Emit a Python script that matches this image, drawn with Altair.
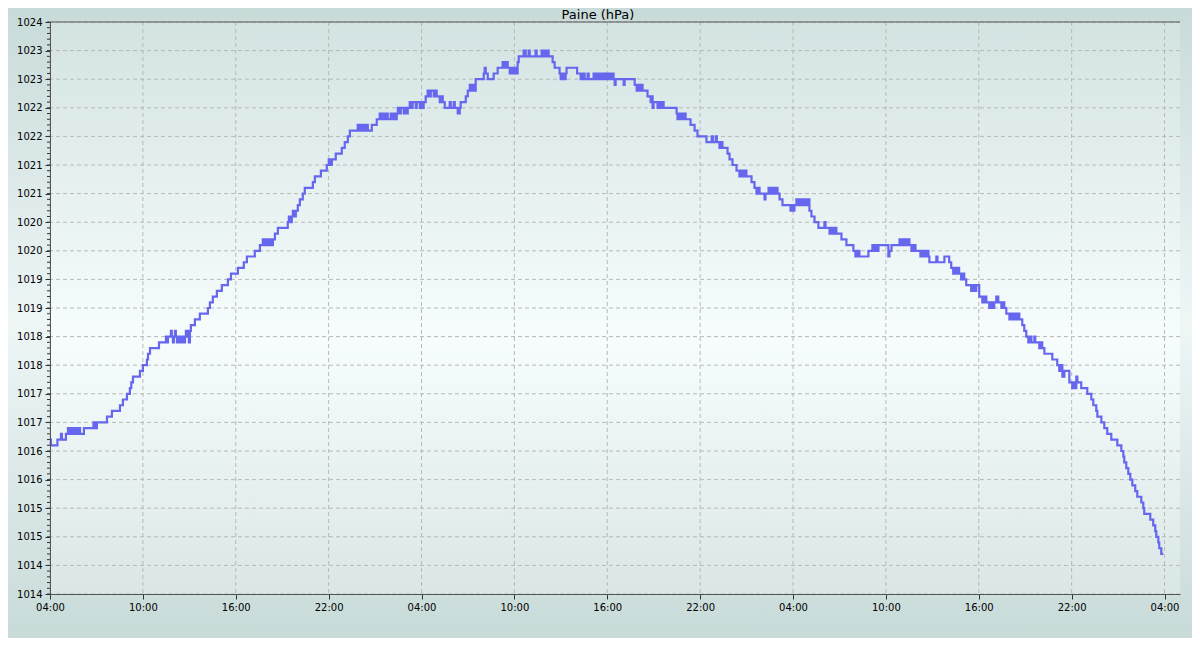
import altair as alt
import pandas as pd

TITLE = "Paine (hPa)"

# hours since the first 04:00
hours = [
    0.00, 0.06, 0.48, 0.71, 0.77, 1.03, 1.16, 1.23, 1.29, 1.36, 1.42, 1.55, 1.61, 1.74, 1.81, 1.94,
    2.19, 2.81, 2.84, 2.91, 2.97, 3.03, 3.68, 4.00, 4.52, 4.71, 4.97, 5.16, 5.25, 5.36, 5.81, 6.00,
    6.26, 6.33, 6.46, 7.04, 7.49, 7.55, 7.62, 7.81, 7.87, 7.94, 8.00, 8.07, 8.13, 8.20, 8.33, 8.39,
    8.52, 8.59, 8.72, 8.78, 8.84, 8.91, 8.97, 9.04, 9.10, 9.36, 9.68, 10.20, 10.33, 10.52, 10.78, 11.10,
    11.49, 11.69, 12.14, 12.52, 12.72, 13.23, 13.56, 13.75, 13.88, 13.94, 14.07, 14.20, 14.33, 14.40, 14.53, 14.72,
    15.36, 15.43, 15.56, 15.62, 15.69, 15.82, 15.88, 16.01, 16.14, 16.33, 16.46, 16.98, 17.11, 17.50, 17.88, 18.01,
    18.08, 18.21, 18.46, 18.85, 19.04, 19.24, 19.37, 19.88, 20.01, 20.14, 20.27, 20.40, 20.53, 20.79, 21.11, 21.30,
    21.43, 21.50, 21.63, 21.76, 21.82, 22.01, 22.08, 22.21, 22.27, 22.40, 22.47, 22.60, 22.66, 22.85, 22.92, 23.05,
    23.11, 23.24, 23.37, 23.43, 23.63, 23.69, 23.89, 23.95, 24.08, 24.14, 24.27, 24.40, 24.53, 24.60, 24.79, 24.85,
    24.98, 25.18, 25.31, 25.37, 25.50, 25.82, 25.89, 26.08, 26.15, 26.34, 26.47, 26.53, 26.86, 26.99, 27.12, 27.18,
    27.31, 27.37, 27.50, 28.02, 28.08, 28.15, 28.28, 28.66, 28.92, 29.24, 29.37, 29.44, 29.57, 29.70, 29.76, 29.89,
    30.02, 30.08, 30.21, 30.28, 30.60, 30.73, 30.92, 30.99, 31.37, 31.44, 31.76, 31.89, 31.95, 32.08, 32.15, 32.21,
    32.47, 32.60, 32.92, 32.99, 33.12, 33.18, 33.31, 33.37, 34.05, 34.28, 34.41, 34.54, 34.73, 34.80, 35.12, 35.25,
    35.38, 35.51, 35.63, 35.76, 35.90, 36.02, 36.09, 36.22, 36.28, 36.41, 36.48, 36.54, 37.06, 37.12, 37.77, 37.90,
    37.96, 38.09, 38.15, 38.28, 38.60, 38.80, 38.86, 38.93, 38.99, 39.25, 39.38, 39.44, 39.57, 39.64, 40.48, 40.54,
    40.67, 40.80, 40.93, 41.06, 41.38, 41.64, 41.83, 42.41, 42.75, 42.82, 43.01, 43.08, 43.25, 43.31, 43.44, 43.77,
    43.90, 44.09, 44.35, 44.54, 44.67, 44.73, 44.86, 44.99, 45.32, 45.51, 45.64, 45.77, 45.84, 46.16, 46.22, 46.42,
    46.55, 46.68, 46.80, 46.87, 47.00, 47.13, 47.32, 47.84, 47.97, 48.03, 48.09, 48.22, 48.29, 48.42, 48.55, 48.68,
    48.80, 48.93, 49.06, 49.19, 49.39, 49.64, 50.03, 50.10, 50.36, 50.48, 50.61, 50.74, 50.80, 51.13, 51.45, 51.90,
    52.03, 52.16, 52.29, 52.87, 53.13, 53.26, 53.39, 53.45, 53.52, 54.16, 54.23, 54.36, 54.88, 55.01, 55.14, 55.27,
    55.39, 55.52, 55.65, 55.78, 55.91, 56.23, 56.36, 56.49, 56.62, 56.75, 56.81, 57.26, 57.33, 57.78, 58.09, 58.22,
    58.35, 58.41, 58.54, 58.60, 58.73, 58.86, 58.93, 59.06, 59.19, 59.51, 59.64, 59.77, 59.84, 60.03, 60.23, 60.36,
    60.49, 60.68, 60.81, 60.87, 61.00, 61.13, 61.26, 61.46, 61.59, 61.65, 61.78, 61.98, 62.10, 62.17, 62.30, 62.43,
    62.49, 62.62, 62.81, 62.94, 63.07, 63.20, 63.33, 63.40, 63.59, 63.65, 63.91, 64.04, 64.10, 64.24, 64.75, 65.07,
    65.20, 65.27, 65.40, 65.53, 65.85, 66.04, 66.17, 66.24, 66.30, 66.37, 66.62, 67.01, 67.27, 67.40, 67.59, 67.66,
    67.92, 68.11, 68.30, 68.56, 68.95, 69.21, 69.34, 69.40, 69.53, 69.66, 69.79, 69.92, 70.11, 70.24, 70.50, 70.63,
    70.69, 71.08, 71.27, 71.40, 71.47, 71.60, 71.66, 71.79, 71.92,
]

pressure = [
    1016.7, 1016.6, 1016.7, 1016.8, 1016.7, 1016.8, 1016.9, 1016.8, 1016.9, 1016.8, 1016.9, 1016.8, 1016.9, 1016.8, 1016.9, 1016.8,
    1016.9, 1017.0, 1016.9, 1017.0, 1016.9, 1017.0, 1017.1, 1017.2, 1017.3, 1017.4, 1017.5, 1017.6, 1017.7, 1017.8, 1017.9, 1018.0,
    1018.1, 1018.2, 1018.3, 1018.4, 1018.5, 1018.4, 1018.5, 1018.6, 1018.5, 1018.4, 1018.5, 1018.6, 1018.5, 1018.4, 1018.5, 1018.4,
    1018.5, 1018.4, 1018.5, 1018.6, 1018.5, 1018.6, 1018.4, 1018.6, 1018.7, 1018.8, 1018.9, 1019.0, 1019.1, 1019.2, 1019.3, 1019.4,
    1019.5, 1019.6, 1019.7, 1019.8, 1019.9, 1020.0, 1020.1, 1020.2, 1020.1, 1020.2, 1020.1, 1020.2, 1020.1, 1020.2, 1020.3, 1020.4,
    1020.5, 1020.6, 1020.5, 1020.6, 1020.7, 1020.6, 1020.7, 1020.8, 1020.9, 1021.0, 1021.1, 1021.2, 1021.3, 1021.4, 1021.5, 1021.6,
    1021.5, 1021.6, 1021.7, 1021.8, 1021.9, 1022.0, 1022.1, 1022.2, 1022.1, 1022.2, 1022.1, 1022.2, 1022.1, 1022.2, 1022.3, 1022.4,
    1022.3, 1022.4, 1022.3, 1022.4, 1022.3, 1022.4, 1022.3, 1022.4, 1022.3, 1022.4, 1022.5, 1022.4, 1022.5, 1022.4, 1022.5, 1022.4,
    1022.5, 1022.6, 1022.5, 1022.6, 1022.5, 1022.6, 1022.5, 1022.6, 1022.5, 1022.6, 1022.7, 1022.8, 1022.7, 1022.8, 1022.7, 1022.8,
    1022.7, 1022.6, 1022.7, 1022.6, 1022.5, 1022.6, 1022.5, 1022.6, 1022.5, 1022.4, 1022.5, 1022.6, 1022.7, 1022.8, 1022.9, 1022.8,
    1022.9, 1022.8, 1023.0, 1023.1, 1023.2, 1023.1, 1023.0, 1023.1, 1023.2, 1023.3, 1023.2, 1023.3, 1023.2, 1023.1, 1023.2, 1023.1,
    1023.2, 1023.1, 1023.3, 1023.4, 1023.5, 1023.4, 1023.5, 1023.4, 1023.5, 1023.4, 1023.5, 1023.4, 1023.5, 1023.4, 1023.5, 1023.4,
    1023.3, 1023.2, 1023.1, 1023.0, 1023.1, 1023.0, 1023.1, 1023.2, 1023.1, 1023.0, 1023.1, 1023.0, 1023.1, 1023.0, 1023.1, 1023.0,
    1023.1, 1023.0, 1023.1, 1023.0, 1023.1, 1023.0, 1023.1, 1023.0, 1023.1, 1023.0, 1022.9, 1023.0, 1022.9, 1023.0, 1022.9, 1022.8,
    1022.9, 1022.8, 1022.9, 1022.8, 1022.7, 1022.6, 1022.7, 1022.5, 1022.6, 1022.5, 1022.6, 1022.5, 1022.6, 1022.5, 1022.4, 1022.3,
    1022.4, 1022.3, 1022.4, 1022.3, 1022.2, 1022.1, 1022.0, 1021.9, 1022.0, 1021.9, 1022.0, 1021.9, 1021.8, 1021.9, 1021.8, 1021.7,
    1021.6, 1021.5, 1021.4, 1021.3, 1021.4, 1021.3, 1021.4, 1021.3, 1021.2, 1021.1, 1021.0, 1021.1, 1021.0, 1020.9, 1021.0, 1021.1,
    1021.0, 1021.1, 1021.0, 1021.1, 1021.0, 1020.9, 1020.8, 1020.7, 1020.8, 1020.7, 1020.8, 1020.9, 1020.8, 1020.9, 1020.8, 1020.9,
    1020.8, 1020.9, 1020.7, 1020.6, 1020.5, 1020.4, 1020.5, 1020.4, 1020.3, 1020.4, 1020.3, 1020.4, 1020.3, 1020.2, 1020.1, 1020.0,
    1019.9, 1020.0, 1019.9, 1020.0, 1020.1, 1020.0, 1020.1, 1020.0, 1020.1, 1019.9, 1020.0, 1020.1, 1020.2, 1020.1, 1020.2, 1020.1,
    1020.2, 1020.1, 1020.0, 1020.1, 1020.0, 1019.9, 1020.0, 1019.9, 1020.0, 1019.9, 1019.8, 1019.9, 1019.8, 1019.9, 1019.8, 1019.7,
    1019.6, 1019.7, 1019.6, 1019.7, 1019.6, 1019.5, 1019.6, 1019.5, 1019.4, 1019.3, 1019.4, 1019.3, 1019.4, 1019.2, 1019.1, 1019.2,
    1019.1, 1019.0, 1019.1, 1019.0, 1019.1, 1019.2, 1019.1, 1019.0, 1019.1, 1019.0, 1018.9, 1018.8, 1018.9, 1018.8, 1018.9, 1018.8,
    1018.9, 1018.8, 1018.7, 1018.6, 1018.5, 1018.4, 1018.5, 1018.4, 1018.5, 1018.4, 1018.3, 1018.4, 1018.3, 1018.2, 1018.1, 1018.0,
    1017.9, 1018.0, 1017.8, 1017.9, 1017.7, 1017.6, 1017.7, 1017.6, 1017.8, 1017.7, 1017.6, 1017.5, 1017.4, 1017.3, 1017.2, 1017.1,
    1017.0, 1016.9, 1016.8, 1016.7, 1016.6, 1016.5, 1016.4, 1016.3, 1016.2, 1016.1, 1016.0, 1015.9, 1015.8, 1015.7, 1015.6, 1015.5,
    1015.4, 1015.3, 1015.2, 1015.1, 1015.0, 1014.9, 1014.8, 1014.7, 1014.7,
]

x_ticks = [0, 6, 12, 18, 24, 30, 36, 42, 48, 54, 60, 66, 72]
x_tick_labels = ["04:00", "10:00", "16:00", "22:00", "04:00", "10:00", "16:00",
                 "22:00", "04:00", "10:00", "16:00", "22:00", "04:00"]
y_ticks = [1014.0, 1014.5, 1015.0, 1015.5, 1016.0, 1016.5, 1017.0, 1017.5, 1018.0, 1018.5, 1019.0,
           1019.5, 1020.0, 1020.5, 1021.0, 1021.5, 1022.0, 1022.5, 1023.0, 1023.5, 1024.0]
y_tick_labels = ["1014", "1014", "1015", "1015", "1016", "1016", "1017", "1017", "1018", "1018", "1019",
                 "1019", "1020", "1020", "1021", "1021", "1022", "1022", "1023", "1023", "1024"]
y_minor_ticks = [round(1014 + 0.1 * i, 1) for i in range(101)]

X_DOMAIN = [0, 73]
Y_DOMAIN = [1014, 1024]
W, H = 1130, 572
PAD = {"left": 42, "top": 14, "right": 12, "bottom": 44}

df = pd.DataFrame({"h": hours, "p": pressure})
df_xt = pd.DataFrame({"h": x_ticks, "lab": x_tick_labels})
df_yt = pd.DataFrame({"p": y_ticks, "lab": y_tick_labels})
df_minor = pd.DataFrame({"p": y_minor_ticks})
df_top = pd.DataFrame({"p": [1024.0]})
df_one = pd.DataFrame({"t": [TITLE]})

xscale = alt.Scale(domain=X_DOMAIN, nice=False, zero=False)
yscale = alt.Scale(domain=Y_DOMAIN, nice=False, zero=False)

ylab_js = "[" + ",".join("'%s'" % s for s in y_tick_labels) + "]"
xlab_js = "[" + ",".join("'%s'" % s for s in x_tick_labels) + "]"

xaxis = alt.Axis(
    orient="bottom", values=x_ticks, title=None, grid=False,
    labelExpr=xlab_js + "[round(datum.value/6)]",
    labelFont="DejaVu Sans", labelFontSize=10, labelColor="#000000",
    tickSize=5, tickColor="#333333", domainColor="#555555", labelPadding=3,
    labelOverlap=False, labelFlush=False, zindex=1,
)
yaxis = alt.Axis(
    orient="left", values=y_ticks, title=None, grid=False,
    labelExpr=ylab_js + "[round((datum.value-1014)*2)]",
    labelFont="DejaVu Sans", labelFontSize=10, labelColor="#000000",
    tickSize=5, tickColor="#333333", domainColor="#555555", labelPadding=3,
    labelOverlap=False, zindex=1,
)


def grad(stops):
    return alt.LinearGradient(
        gradient="linear",
        stops=[alt.GradientStop(offset=o, color=c) for o, c in stops],
        x1=0, x2=0, y1=0, y2=1,
    )


outer_bg = alt.Chart(df_one).mark_rect(
    clip=False,
    fill=grad([(0, "#c8dbd9"), (0.5, "#eef6f6"), (1, "#c8dbd9")]),
).encode(
    x=alt.value(-PAD["left"]), x2=alt.value(W + PAD["right"]),
    y=alt.value(-PAD["top"]), y2=alt.value(H + PAD["bottom"]),
)

plot_bg = alt.Chart(df_one).mark_rect(
    fill=grad([(0, "#d3e3e2"), (0.55, "#f7fdfd"), (1, "#dae7e6")]),
).encode(x=alt.value(0), x2=alt.value(W), y=alt.value(0), y2=alt.value(H))

ygrid = alt.Chart(df_yt).mark_rule(color="#b8b8b8", strokeDash=[4, 3], strokeWidth=1).encode(
    y=alt.Y("p:Q", scale=yscale, axis=yaxis)
)

xgrid = alt.Chart(df_xt).mark_rule(color="#b8b8b8", strokeDash=[4, 3], strokeWidth=1).encode(
    x=alt.X("h:Q", scale=xscale, axis=xaxis)
)

minor_ticks = alt.Chart(df_minor).mark_rule(color="#333333", strokeWidth=1, clip=False).encode(
    y=alt.Y("p:Q", scale=yscale, axis=yaxis),
    x=alt.value(-3),
    x2=alt.value(0),
)

top_rule = alt.Chart(df_top).mark_rule(color="#555555", strokeWidth=1).encode(
    y=alt.Y("p:Q", scale=yscale, axis=yaxis)
)

line = alt.Chart(df).mark_line(interpolate="step-after", color="#6666ee", strokeWidth=2.2).encode(
    x=alt.X("h:Q", scale=xscale, axis=xaxis),
    y=alt.Y("p:Q", scale=yscale, axis=yaxis),
)

title = alt.Chart(df_one).mark_text(
    font="DejaVu Sans", fontSize=13, color="#000000", baseline="middle", align="center", clip=False
).encode(text="t:N", x=alt.value(548), y=alt.value(-7))

chart = (
    alt.layer(outer_bg, plot_bg, xgrid, ygrid, minor_ticks, top_rule, line, title)
    .properties(
        width=W, height=H,
        autosize=alt.AutoSizeParams(type="none"),
        padding=PAD,
        background="#c9dcdb",
    )
    .configure_view(stroke=None)
)

chart.save("out.html", embed_options={"renderer": "svg", "actions": False})
